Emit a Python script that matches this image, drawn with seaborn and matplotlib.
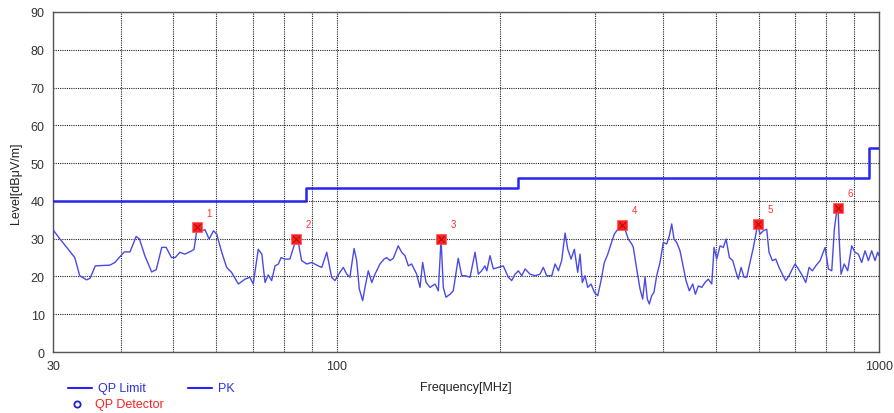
import matplotlib
matplotlib.use("Agg")
import matplotlib.pyplot as plt
import seaborn as sns
import pandas as pd
import numpy as np
from matplotlib.lines import Line2D

# ---- data ----
pk_freq = [30.0, 30.1, 30.9, 31.8, 32.9, 33.6, 34.6, 35.1, 35.9, 38.2, 39.0, 39.9, 40.6, 41.6, 42.7,
           43.3, 44.3, 45.6, 46.5, 47.6, 48.5, 49.6, 50.4, 51.4, 52.5, 54.1, 54.6, 55.3, 56.4, 57.2,
           58.2, 59.3, 60.1, 61.4, 62.7, 64.0, 65.9, 67.8, 69.2, 70.2, 71.7, 72.8, 73.8, 74.8, 75.9,
           77.0, 78.1, 79.0, 80.3, 82.0, 83.8, 84.2, 85.0, 86.2, 88.1, 90.0, 92.5, 93.9, 95.9, 97.9,
           99.3, 101.4, 102.9, 104.4, 105.8, 107.7, 108.9, 110.1, 111.7, 112.8, 114.4, 116.1, 117.7,
           120.2, 122.3, 123.7, 125.4, 127.2, 129.9, 131.8, 133.7, 135.6, 137.5, 140.5, 142.5, 144.1,
           146.2, 148.7, 151.9, 154.0, 155.8, 157.3, 159.1, 161.9, 164.1, 167.6, 170.1, 172.5, 176.2,
           180.0, 182.5, 185.1, 187.7, 189.2, 191.8, 194.5, 198.7, 202.9, 207.3, 210.3, 213.3, 216.3,
           219.5, 222.6, 227.3, 232.2, 237.1, 240.5, 244.0, 249.3, 252.8, 256.4, 260.0, 263.8, 266.8,
           270.6, 274.4, 278.3, 281.1, 283.8, 287.1, 290.4, 294.5, 298.7, 303.0, 307.3, 311.6, 316.2,
           320.6, 325.1, 329.9, 335.5, 340.2, 345.0, 350.0, 352.4, 357.5, 362.6, 366.7, 370.4, 374.0,
           377.2, 381.0, 384.7, 389.2, 394.7, 400.3, 406.1, 410.7, 414.8, 418.9, 423.7, 429.7, 434.6,
           440.8, 447.0, 453.5, 458.6, 464.5, 471.2, 477.9, 484.6, 491.7, 496.5, 502.2, 509.3, 516.5,
           522.5, 529.9, 537.5, 545.1, 550.4, 556.8, 563.9, 570.4, 578.5, 586.7, 597.7, 603.5, 612.0,
           620.9, 627.0, 635.9, 645.2, 654.2, 663.4, 673.0, 682.6, 692.3, 700.3, 710.2, 722.3, 732.9,
           743.2, 753.8, 764.6, 778.8, 795.5, 806.7, 818.3, 827.4, 835.9, 840.5, 844.1, 851.2, 863.0,
           875.6, 890.7, 903.3, 916.1, 929.3, 942.5, 955.8, 969.6, 983.3, 994.5, 1000.0]
pk_level = [32.4, 32.1, 29.9, 27.7, 25.0, 20.2, 19.1, 19.5, 22.8, 23.0, 23.7, 25.3, 26.5, 26.5, 30.6,
            29.9, 25.5, 21.2, 21.8, 27.7, 27.7, 25.0, 25.0, 26.4, 25.9, 26.8, 27.2, 32.8, 32.1, 32.4,
            29.9, 32.1, 31.2, 26.4, 22.4, 21.1, 18.0, 19.3, 19.8, 18.0, 27.2, 25.9, 18.4, 20.4, 18.9,
            22.8, 23.3, 25.0, 24.6, 24.6, 29.0, 29.9, 29.0, 24.2, 23.3, 23.7, 22.8, 22.4, 26.4, 19.8,
            18.9, 21.1, 22.4, 20.6, 19.8, 27.4, 24.2, 16.7, 13.6, 17.1, 21.5, 18.4, 20.6,
            23.3, 24.6, 25.0, 24.2, 24.8, 28.1, 26.4, 25.5, 22.8, 23.3, 20.6, 17.1, 23.7,
            18.4, 17.1, 18.0, 16.2, 29.9, 17.1, 14.5, 15.3, 16.2, 24.8, 20.2, 20.2, 19.8,
            26.4, 20.6, 21.5, 22.8, 21.5, 25.5, 22.0, 22.4, 22.8, 19.8, 18.9, 20.6, 21.5,
            20.2, 22.0, 20.6, 20.2, 20.6, 22.4, 20.2, 20.2, 23.3, 21.5, 24.2, 31.5, 27.2,
            24.6, 27.2, 21.1, 25.9, 18.4, 20.2, 17.1, 18.0, 15.8, 14.9, 18.9, 23.7, 25.9,
            28.6, 31.2, 32.5, 33.4, 32.5, 29.9, 28.6, 27.7, 22.0, 16.7, 14.0, 19.8, 14.0,
            12.7, 14.9, 15.8, 20.2, 23.7, 29.0, 28.6, 30.8, 33.9, 29.9, 29.0, 26.8, 23.3,
            18.9, 16.2, 18.0, 15.3, 17.5, 17.1, 18.4, 19.3, 18.0, 27.7, 24.6, 28.1, 27.7,
            29.9, 25.0, 24.2, 21.1, 19.3, 22.4, 19.8, 19.8, 23.7, 27.7, 33.9, 31.2, 32.1,
            32.5, 26.4, 24.2, 24.6, 22.4, 20.6, 18.9, 20.2, 22.0, 23.3, 22.0, 20.2, 18.4,
            22.4, 21.5, 22.8, 24.2, 27.7, 22.0, 21.5, 32.5, 37.4, 38.0, 30.8, 20.6, 23.3,
            21.5, 28.1, 26.4, 25.9, 23.7, 26.8, 24.2, 26.8, 24.2, 26.4, 25.5]

limit_freq = [30, 88, 88, 216, 216, 960, 960, 1000]
limit_level = [40, 40, 43.5, 43.5, 46, 46, 54, 54]

qp_freq = [55.3, 84.2, 155.8, 335.5, 597.7, 840.5]
qp_level = [33.0, 29.9, 29.9, 33.6, 33.9, 38.1]
qp_label = ["1", "2", "3", "4", "5", "6"]

x_ticks = [30, 100, 1000]
y_ticks = list(range(0, 100, 10))

# ---- figure ----
sns.set_theme(style="white")
plt.rcParams['font.family'] = ['Liberation Sans', 'DejaVu Sans']

fig = plt.figure(figsize=(8.94, 4.14), dpi=100)
ax = fig.add_axes([0.0593, 0.1473, 0.9239, 0.8213])

pk_df = pd.DataFrame({"f": pk_freq, "L": pk_level})
lim_df = pd.DataFrame({"f": limit_freq, "L": limit_level})
qp_df = pd.DataFrame({"f": qp_freq, "L": qp_level})

sns.lineplot(data=lim_df, x="f", y="L", ax=ax, sort=False, estimator=None, errorbar=None,
             color="#2626f0", lw=1.8, zorder=3)
sns.lineplot(data=pk_df, x="f", y="L", ax=ax, sort=False, estimator=None, errorbar=None,
             color="#4a4ae8", lw=1.0, zorder=4)
sns.scatterplot(data=qp_df, x="f", y="L", ax=ax, marker="s", s=45, color="#ff2020",
                edgecolor="#ff5050", linewidth=0.5, zorder=5)
sns.scatterplot(data=qp_df, x="f", y="L", ax=ax, marker="x", s=22, color="#b01010",
                linewidth=0.8, zorder=6)
for f, l, t in zip(qp_freq, qp_level, qp_label):
    ax.annotate(t, (f, l), xytext=(7, 7), textcoords="offset points", color="#ff3030",
                fontsize=7, ha="left", va="bottom")

ax.set_xscale("log")
ax.set_xlim(30, 1000)
ax.set_ylim(0, 90)
ax.set_xticks(x_ticks)
ax.set_xticklabels([str(v) for v in x_ticks])
ax.xaxis.set_minor_locator(matplotlib.ticker.LogLocator(base=10, subs=np.arange(2, 10)))
ax.xaxis.set_minor_formatter(matplotlib.ticker.NullFormatter())
ax.set_yticks(y_ticks)
ax.tick_params(axis="both", which="both", length=0, labelsize=9, colors="#333333", pad=6)
ax.grid(True, which="both", axis="x", color="#222222", ls=(0, (1, 1)), lw=0.8)
ax.grid(True, which="major", axis="y", color="#222222", ls=(0, (1, 1)), lw=0.8)
for s in ax.spines.values():
    s.set_color("#555555")
    s.set_linewidth(1.0)
ax.set_xlabel("Frequency[MHz]", fontsize=9, color="#222222", labelpad=4)
ax.set_ylabel("Level[dBμV/m]", fontsize=9, color="#222222", labelpad=6)
ax.xaxis.set_label_coords(0.5, -0.085)

# legend below the axes
fig.lines.append(Line2D([68 / 894, 92 / 894], [1 - 389 / 414] * 2, color="#2626f0", lw=1.5,
                        transform=fig.transFigure))
fig.text(98 / 894, 1 - 389 / 414, "QP Limit", color="#3030e0", fontsize=9, va="center")
fig.lines.append(Line2D([188 / 894, 212 / 894], [1 - 389 / 414] * 2, color="#2626f0", lw=1.5,
                        transform=fig.transFigure))
fig.text(218 / 894, 1 - 389 / 414, "PK", color="#3030e0", fontsize=9, va="center")
fig.lines.append(Line2D([77 / 894], [1 - 405 / 414], marker="o", markersize=4.5,
                        markerfacecolor="none", markeredgecolor="#2020d0", markeredgewidth=1.3,
                        transform=fig.transFigure))
fig.text(95 / 894, 1 - 405 / 414, "QP Detector", color="#ff2020", fontsize=9, va="center")

fig.savefig("out.png", dpi=100)
